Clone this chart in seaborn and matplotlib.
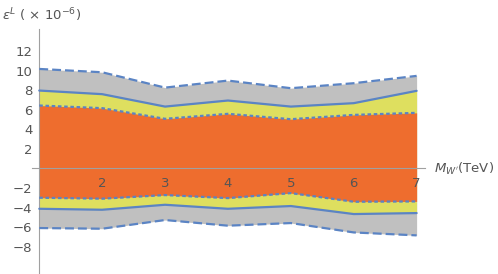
import numpy as np
import pandas as pd
import seaborn as sns
import matplotlib.pyplot as plt
from matplotlib.ticker import MultipleLocator

# masses (TeV)
mass = [1, 2, 3, 4, 5, 6, 7]

# bounds on epsilon^L (x 1e-6)
outer_up = [10.17, 9.83, 8.26, 8.98, 8.20, 8.71, 9.46]
mid_up = [7.96, 7.59, 6.32, 6.94, 6.32, 6.67, 7.93]
inner_up = [6.43, 6.16, 5.07, 5.58, 5.03, 5.47, 5.68]
inner_lo = [-3.00, -3.10, -2.73, -3.04, -2.53, -3.41, -3.38]
mid_lo = [-4.13, -4.23, -3.72, -4.13, -3.85, -4.67, -4.57]
outer_lo = [-6.10, -6.17, -5.28, -5.86, -5.59, -6.55, -6.85]

BLUE = "#5b84c4"
ORANGE = "#ee6d2e"
YELLOW = "#dedf5f"
GRAY = "#c0c0c0"
AXC = "#a0a0a0"
TXT = "#555555"

sns.set_style("white")
plt.rcParams['font.family'] = ['DejaVu Sans']

fig = plt.figure(figsize=(4.98, 2.74), dpi=100)
ax = fig.add_axes([0.0637, 0.0, 0.853 - 0.0637, 0.894])

# bands
ax.fill_between(mass, outer_lo, outer_up, color=GRAY, lw=0, zorder=0.2)
ax.fill_between(mass, mid_lo, mid_up, color=YELLOW, lw=0, zorder=0.3)
ax.fill_between(mass, inner_lo, inner_up, color=ORANGE, lw=0, zorder=0.4)

df = pd.DataFrame({"m": mass})
styles = [
    (outer_up, (4, 1.8)), (outer_lo, (4, 1.8)),
    (mid_up, None), (mid_lo, None),
    (inner_up, (1.6, 1.2)), (inner_lo, (1.6, 1.2)),
]
for vals, dash in styles:
    df["v"] = vals
    line = sns.lineplot(data=df, x="m", y="v", ax=ax, color=BLUE, lw=1.6, zorder=3)
    if dash is not None:
        line.lines[-1].set_dashes(dash)

ax.set_xlim(0.88, 7.13)
ax.set_ylim(-10.8, 14.25)
ax.set_axisbelow(False)

for s in ["top", "right"]:
    ax.spines[s].set_visible(False)
ax.spines["left"].set_position(("data", 1))
ax.spines["bottom"].set_position(("data", 0))
for s in ["left", "bottom"]:
    ax.spines[s].set_color(AXC)
    ax.spines[s].set_linewidth(0.8)
    ax.spines[s].set_zorder(2.6)

ax.set_xticks([2, 3, 4, 5, 6, 7])
ax.xaxis.set_minor_locator(MultipleLocator(0.2))
ax.set_yticks([-8, -6, -4, -2, 2, 4, 6, 8, 10, 12])
ax.tick_params(axis="both", which="major", direction="in", length=4, width=0.6,
               color=AXC, labelcolor=TXT, labelsize=9.5)
ax.tick_params(axis="x", which="minor", direction="in", length=2.5, width=0.5, color=AXC)
ax.tick_params(axis="x", which="major", pad=6)
ax.tick_params(axis="y", which="major", direction="out", length=3, pad=2)
ax.set_xlabel("")
ax.set_ylabel("")

fig.text(0.005, 0.975, r"$\epsilon^L$ ( $\times$ 10$^{-6}$)", color=TXT, fontsize=9.5,
         ha="left", va="top")
fig.text(0.872, 0.385, r"$M_{W'}$(TeV)", color=TXT, fontsize=9.5, ha="left", va="center")

fig.savefig("out.png", dpi=100)
